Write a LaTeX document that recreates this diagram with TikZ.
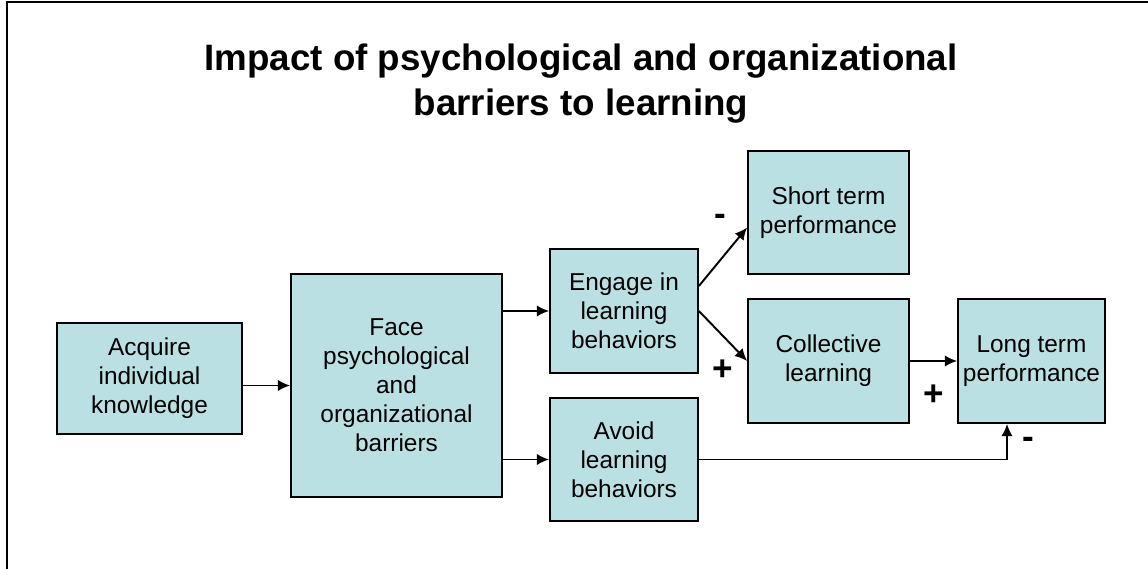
\documentclass[tikz,border=0pt]{standalone}
\usepackage{fontspec}
\setmainfont{Liberation Sans}
\usetikzlibrary{arrows.meta,positioning}
\definecolor{boxfill}{RGB}{187,224,227}

\begin{document}
\begin{tikzpicture}[>={Latex[length=7pt,width=6.5pt]},
  box/.style={draw,line width=1pt,fill=boxfill,align=center,inner sep=0pt,
    font=\fontsize{13.9}{16.5}\selectfont},
  link/.style={line width=1.1pt,->},
  sign/.style={inner sep=0pt,font=\bfseries\fontsize{20}{24}\selectfont}]
  \useasboundingbox (0,0) rectangle (22.96,11.38);
  \draw[line width=1.1pt] (0.14,0) |- (22.96,11.34);

  \node[font=\bfseries\fontsize{20.9}{25.5}\selectfont,align=center] (title) at (11.62,9.70)
    {Impact of psychological and organizational\\barriers to learning};

  \node[box,minimum width=3.70cm,minimum height=2.22cm] (acquire) at (2.99,3.81)
    {Acquire\\individual\\knowledge};
  \node[box,minimum width=4.22cm,minimum height=4.46cm] (face) at (7.93,3.67)
    {Face\\psychological\\and\\organizational\\barriers};
  \node[box,minimum width=2.96cm,minimum height=2.48cm] (engage) at (12.48,5.16)
    {Engage in\\learning\\behaviors};
  \node[box,minimum width=2.96cm,minimum height=2.46cm] (avoid) at (12.48,2.19)
    {Avoid\\learning\\behaviors};
  \node[box,minimum width=3.22cm,minimum height=2.46cm] (shortterm) at (16.57,7.13)
    {Short term\\performance};
  \node[box,minimum width=3.22cm,minimum height=2.48cm] (collective) at (16.57,4.16)
    {Collective\\learning};
  \node[box,minimum width=2.94cm,minimum height=2.48cm] (longterm) at (20.63,4.16)
    {Long term\\performance};

  \draw[link] (acquire.east |- face.west) -- (face.west);
  \draw[link] (face.east |- engage.west) -- (engage.west);
  \draw[link] (face.east |- avoid.west) -- (avoid.west);
  \draw[link] ([yshift=0.5cm]engage.east) -- ([yshift=-0.3cm]shortterm.west);
  \draw[link] (engage.east) -- (collective.west);
  \draw[link] (collective.east) -- (longterm.west);
  \draw[link] (avoid.east) -| ([xshift=-0.49cm]longterm.south);

  \node[sign] (minusshort) at (14.40,6.98) {-};
  \node[sign] (pluscoll) at (14.46,3.98) {+};
  \node[sign] (pluslong) at (18.68,3.48) {+};
  \node[sign] (minuslong) at (20.56,2.52) {-};
\end{tikzpicture}
\end{document}
